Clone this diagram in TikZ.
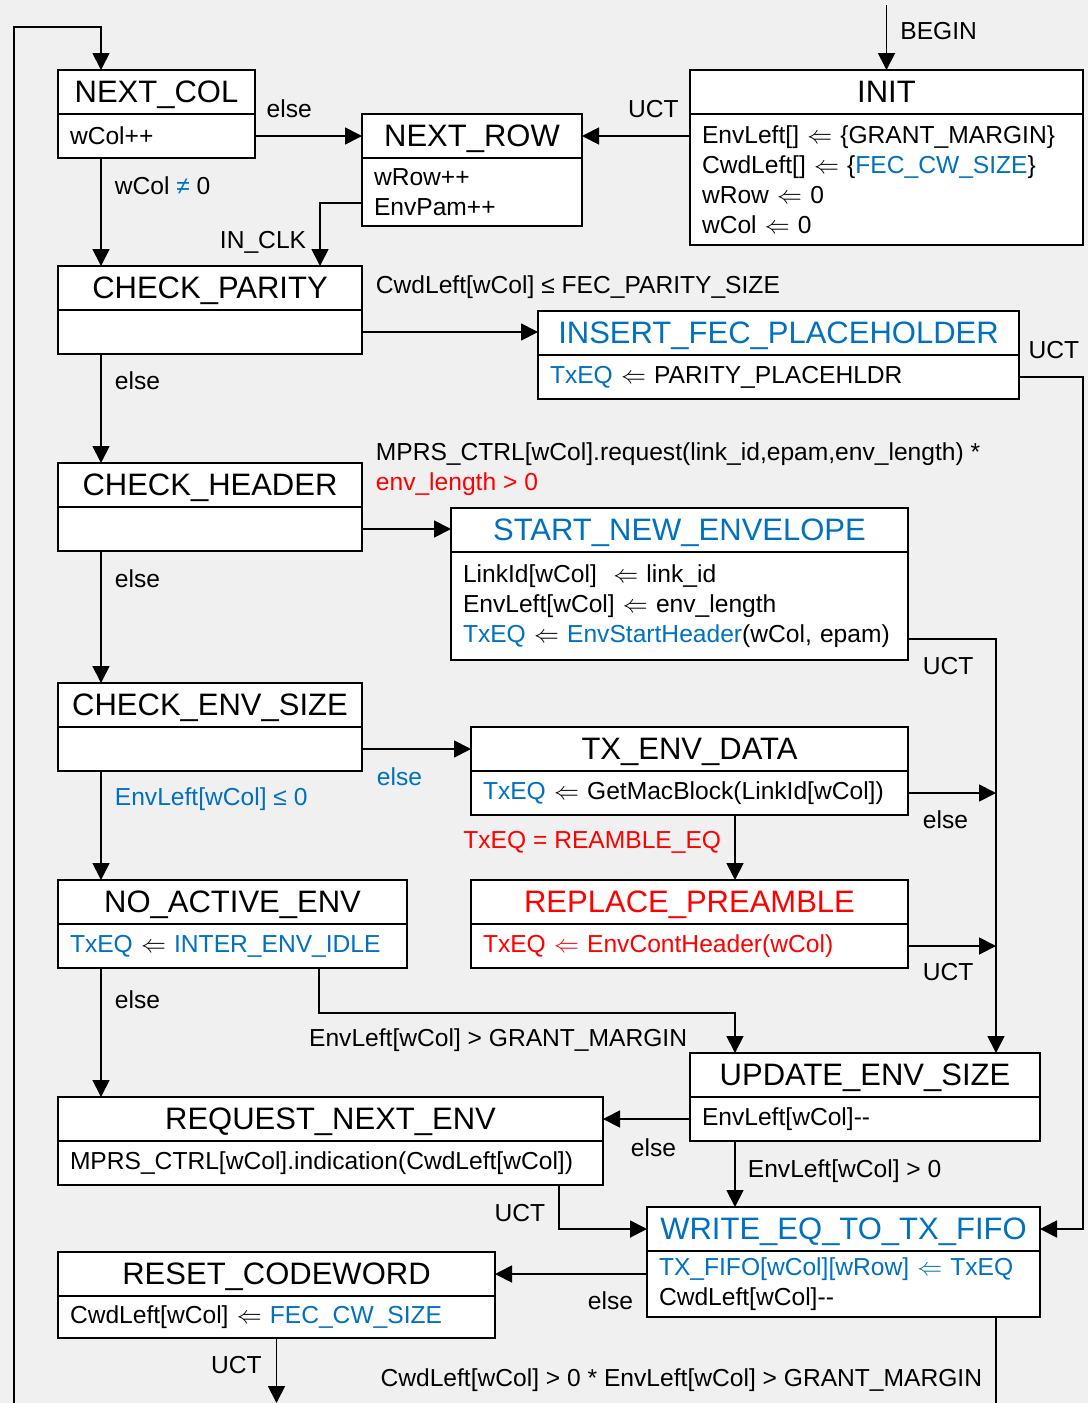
\documentclass[tikz,border=0pt]{standalone}
\usepackage{fontspec}
\setmainfont{Liberation Sans}
\usetikzlibrary{positioning,arrows.meta}
\definecolor{fsmblue}{HTML}{0070C0}
\definecolor{fsmred}{HTML}{FF0000}
\definecolor{fsmback}{HTML}{F0F0F0}
\newcommand{\la}{\ensuremath{\Leftarrow}}
\newcommand{\bl}[1]{\textcolor{fsmblue}{#1}}

\begin{document}
\begin{tikzpicture}[
x=1pt,y=-1pt,
line width=1.8pt,
>={Triangle[length=17pt,width=17pt]},
hd/.style={draw,fill=white,anchor=north west,outer sep=0pt,minimum height=44pt,inner sep=0pt,text depth=0pt,font=\fontsize{31}{36}\selectfont},
bd/.style={draw,fill=white,anchor=north west,outer sep=0pt,minimum height=44pt,inner xsep=12pt,inner ysep=0pt,align=left,font=\fontsize{24.6}{30}\selectfont},
lbl/.style={inner sep=0pt,font=\fontsize{24.6}{30}\selectfont}]
\path[use as bounding box,fill=fsmback] (0,0) rectangle (1088,1403);

% states: title on top, actions below
\node[hd,minimum width=197pt] (ncol) at (58,70) {NEXT\_COL};
\node[bd,text width=173pt] (ncolb) at (ncol.south west) {wCol++};
\node[hd,minimum width=220pt] (nrow) at (362,114) {NEXT\_ROW};
\node[bd,text width=196pt,minimum height=68pt] (nrowb) at (nrow.south west) {wRow++\\EnvPam++};
\node[hd,minimum width=393pt] (init) at (690,70) {INIT};
\node[bd,text width=369pt,minimum height=131pt] (initb) at (init.south west)
  {EnvLeft[] \la{} \{GRANT\_MARGIN\}\\CwdLeft[] \la{} \{\bl{FEC\_CW\_SIZE}\}\\wRow \la{} 0\\wCol \la{} 0};
\node[hd,minimum width=304pt] (cpar) at (58,266) {CHECK\_PARITY};
\node[bd,text width=280pt] (cparb) at (cpar.south west) {};
\node[hd,minimum width=481pt,text=fsmblue] (ifec) at (538,311) {INSERT\_FEC\_PLACEHOLDER};
\node[bd,text width=457pt] (ifecb) at (ifec.south west) {\bl{TxEQ} \la{} PARITY\_PLACEHLDR};
\node[hd,minimum width=304pt] (chdr) at (58,463) {CHECK\_HEADER};
\node[bd,text width=280pt] (chdrb) at (chdr.south west) {};
\node[hd,minimum width=457pt,text=fsmblue] (snew) at (451,508) {START\_NEW\_ENVELOPE};
\node[bd,text width=433pt,minimum height=108pt] (snewb) at (snew.south west)
  {LinkId[wCol]~~\la{} link\_id\\EnvLeft[wCol] \la{} env\_length\\\bl{TxEQ} \la{} \bl{EnvStartHeader}(wCol, epam)};
\node[hd,minimum width=304pt] (cenv) at (58,683) {CHECK\_ENV\_SIZE};
\node[bd,text width=280pt] (cenvb) at (cenv.south west) {};
\node[hd,minimum width=437pt] (txd) at (471,727) {TX\_ENV\_DATA};
\node[bd,text width=413pt] (txdb) at (txd.south west) {\bl{TxEQ} \la{} GetMacBlock(LinkId[wCol])};
\node[hd,minimum width=349pt] (noact) at (58,880) {NO\_ACTIVE\_ENV};
\node[bd,text width=325pt] (noactb) at (noact.south west) {\bl{TxEQ} \la{} \bl{INTER\_ENV\_IDLE}};
\node[hd,minimum width=437pt,text=fsmred] (rpre) at (471,880) {REPLACE\_PREAMBLE};
\node[bd,text width=413pt,text=fsmred] (rpreb) at (rpre.south west) {TxEQ \la{} EnvContHeader(wCol)};
\node[hd,minimum width=350pt] (upd) at (690,1053) {UPDATE\_ENV\_SIZE};
\node[bd,text width=326pt] (updb) at (upd.south west) {EnvLeft[wCol]-{}-};
\node[hd,minimum width=545pt] (rqn) at (58,1097) {REQUEST\_NEXT\_ENV};
\node[bd,text width=521pt] (rqnb) at (rqn.south west) {MPRS\_CTRL[wCol].indication(CwdLeft[wCol])};
\node[hd,minimum width=393pt,text=fsmblue] (wfifo) at (647,1207) {WRITE\_EQ\_TO\_TX\_FIFO};
\node[bd,text width=369pt,minimum height=66pt] (wfifob) at (wfifo.south west)
  {\bl{TX\_FIFO[wCol][wRow] \la{} TxEQ}\\CwdLeft[wCol]-{}-};
\node[hd,minimum width=437pt] (rcw) at (58,1252) {RESET\_CODEWORD};
\node[bd,text width=413pt,minimum height=42pt] (rcwb) at (rcw.south west) {CwdLeft[wCol] \la{} \bl{FEC\_CW\_SIZE}};

\coordinate (rbus) at ([xshift=-44pt]upd.north east);
\coordinate (exitr) at (996,1403);
\coordinate (exitl) at (276.5,1403);
\coordinate (loopin) at (14,1403);
\coordinate (looptop) at (14,27);

% transitions
\draw[->] ([yshift=65pt]init.north) -- (init.north) node[lbl,pos=0.4,anchor=west,xshift=13pt] {BEGIN};
\draw[->] (nrow.east -| initb.west) -- (nrow.east) node[lbl,pos=0.34,anchor=base,yshift=19pt] {UCT};
\draw[->] (ncolb.east) -- (nrow.west) node[lbl,pos=0.32,anchor=base,yshift=19pt] {else};
\draw[->] ([xshift=43pt]ncolb.south west) -- ([xshift=43pt]cpar.north west)
  node[lbl,pos=0.34,anchor=base west,xshift=13pt] {wCol \bl{≠} 0};
\draw[->] ([yshift=-11pt]nrowb.west) -| ([xshift=-42pt]cpar.north east)
  node[lbl,pos=0.86,anchor=base east,xshift=-13pt] {IN\_CLK};
\draw[->] (cparb.east) -- (cparb.east -| ifec.west)
  node[lbl,pos=0,anchor=base west,xshift=13pt,yshift=39pt] {CwdLeft[wCol] ≤ FEC\_PARITY\_SIZE};
\draw[->] (ifecb.east) -- node[lbl,pos=1,anchor=base east,xshift=-3pt,yshift=19pt] {UCT}
  (ifecb.east -| initb.east) |- (wfifo.east);
\draw[->] ([xshift=43pt]cparb.south west) -- ([xshift=43pt]chdr.north west)
  node[lbl,pos=0.33,anchor=base west,xshift=13pt] {else};
\draw[->] (chdrb.east) -- (chdrb.east -| snew.west)
  node[lbl,pos=0,anchor=base west,xshift=13pt,yshift=69pt] {MPRS\_CTRL[wCol].request(link\_id,epam,env\_length) *}
  node[lbl,pos=0,anchor=base west,xshift=13pt,yshift=39pt,text=fsmred] {env\_length > 0};
\draw[->] ([yshift=-33pt]snewb.east) -| (rbus) node[lbl,pos=0,anchor=base west,xshift=14pt,yshift=-35pt] {UCT};
\draw[->] ([xshift=43pt]chdrb.south west) -- ([xshift=43pt]cenv.north west)
  node[lbl,pos=0.28,anchor=base west,xshift=13pt] {else};
\draw[->] (cenvb.east) -- (txd.west) node[lbl,pos=0,anchor=base west,xshift=14pt,yshift=-36pt,text=fsmblue] {else};
\draw[->] ([xshift=43pt]cenvb.south west) -- ([xshift=43pt]noact.north west)
  node[lbl,pos=0.32,anchor=base west,xshift=13pt,text=fsmblue] {EnvLeft[wCol] ≤ 0};
\draw[->] (txdb.east) -- (txdb.east -| rbus) node[lbl,pos=0,anchor=base west,xshift=14pt,yshift=-35pt] {else};
\draw[->] ([xshift=264pt]txdb.south west) -- ([xshift=264pt]rpre.north west)
  node[lbl,pos=0.52,anchor=base east,xshift=-13pt,text=fsmred] {TxEQ = REAMBLE\_EQ};
\draw[->] (rpreb.east) -- (rpreb.east -| rbus) node[lbl,pos=0,anchor=base west,xshift=14pt,yshift=-34pt] {UCT};
\draw[->] ([xshift=43pt]noactb.south west) -- ([xshift=43pt]rqn.north west)
  node[lbl,pos=0.31,anchor=base west,xshift=13pt] {else};
\draw[->] ([xshift=-88pt]noactb.south east) -- ++(0,45) -| ([xshift=45pt]upd.north west)
  node[lbl,pos=1,anchor=base east,xshift=-47pt,yshift=7pt] {EnvLeft[wCol] > GRANT\_MARGIN};
\draw[->] (updb.west) -- (rqn.east) node[lbl,pos=0,anchor=base east,xshift=-13pt,yshift=-37pt] {else};
\draw[->] ([xshift=45pt]updb.south west) -- ([xshift=45pt]updb.south west |- wfifo.north)
  node[lbl,pos=0.55,anchor=base west,xshift=12pt] {EnvLeft[wCol] > 0};
\draw[->] ([xshift=-44pt]rqnb.south east) |- (wfifo.west) node[lbl,pos=0.41,anchor=base east,xshift=-13pt] {UCT};
\draw[->] (rcw.east -| wfifob.west) -- (rcw.east) node[lbl,pos=0,anchor=base east,xshift=-13pt,yshift=-35pt] {else};
\draw ([xshift=-44pt]wfifob.south east) -- (exitr)
  node[lbl,pos=1,anchor=base east,xshift=-13pt,yshift=17pt] {CwdLeft[wCol] > 0 * EnvLeft[wCol] > GRANT\_MARGIN};
\draw[->] (rcwb.south) -- (exitl) node[lbl,pos=0.54,anchor=base east,xshift=-14pt] {UCT};
\draw[->] (loopin) -- (looptop) -| ([xshift=43pt]ncol.north west);
\end{tikzpicture}
\end{document}
